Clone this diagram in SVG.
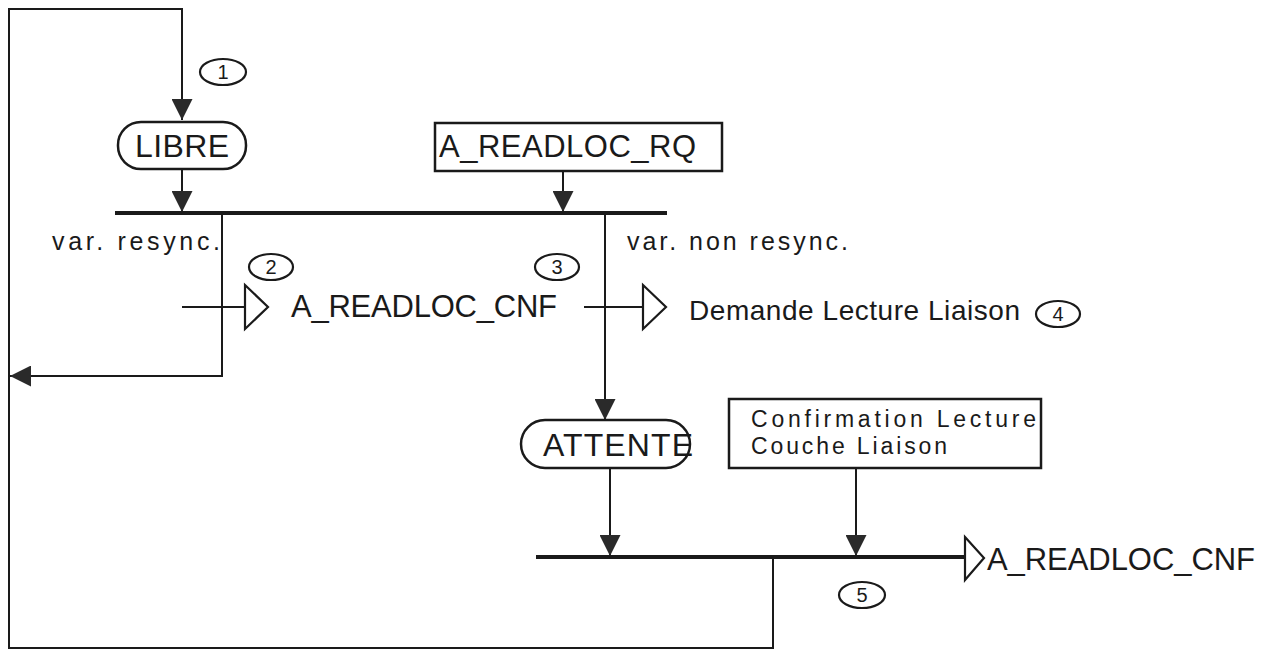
<svg xmlns="http://www.w3.org/2000/svg" width="1274" height="652" viewBox="0 0 1274 652">
<style>
.ln{fill:none;stroke:#1a1a1a;stroke-width:2}
.bar{fill:none;stroke:#1a1a1a;stroke-width:4}
.box{fill:#fff;stroke:#1a1a1a;stroke-width:2.5}
.sig{fill:#fff;stroke:#1a1a1a;stroke-width:2.2}
.t{font-family:"Liberation Sans",Arial,sans-serif;fill:#1a1a1a}
.num{font-family:"Liberation Sans",Arial,sans-serif;fill:#1a1a1a;font-size:20px;text-anchor:middle}
.circ{fill:none;stroke:#1a1a1a;stroke-width:2.2}
</style>
<defs>
<marker id="ah" viewBox="0 0 20 20" refX="20" refY="10" markerWidth="21" markerHeight="21" markerUnits="userSpaceOnUse" orient="auto">
<path d="M0,0 L20,10 L0,20 z" fill="#2a2a2a"/>
</marker>
</defs>
<rect width="1274" height="652" fill="#fff"/>
<g id="connectors">
<polyline class="ln" points="773,557 773,648 9,648 9,9 182,9 182,120" marker-end="url(#ah)"/>
<line class="ln" x1="182" y1="169" x2="182" y2="212" marker-end="url(#ah)"/>
<line class="ln" x1="563" y1="171" x2="563" y2="212" marker-end="url(#ah)"/>
<polyline class="ln" points="222,213 222,376 10,376" marker-end="url(#ah)"/>
<line class="ln" x1="605" y1="213" x2="605" y2="420" marker-end="url(#ah)"/>
<line class="ln" x1="610" y1="468" x2="610" y2="556" marker-end="url(#ah)"/>
<line class="ln" x1="856" y1="468" x2="856" y2="556" marker-end="url(#ah)"/>
<line class="ln" x1="182" y1="307" x2="245" y2="307"/>
<line class="ln" x1="584" y1="307" x2="643" y2="307"/>
</g>
<g id="bar1"><line class="bar" x1="115" y1="213" x2="667" y2="213"/></g>
<g id="bar2"><line class="bar" x1="536" y1="557" x2="965" y2="557"/></g>
<g id="libre">
<rect class="box" x="118" y="122" width="128" height="47" rx="23" ry="23"/>
<text class="t" x="182" y="157" font-size="32" text-anchor="middle" textLength="94">LIBRE</text>
</g>
<g id="n1"><ellipse class="circ" cx="223" cy="72" rx="23" ry="13"/><text class="num" x="223" y="79">1</text></g>
<g id="rq">
<rect class="box" x="435" y="123" width="287" height="48"/>
<text class="t" x="439" y="157" font-size="31" textLength="257">A_READLOC_RQ</text>
</g>
<g id="lbl-resync"><text class="t" x="52" y="250" font-size="25" textLength="168">var.  resync.</text></g>
<g id="lbl-nonresync"><text class="t" x="627" y="250" font-size="25" textLength="221">var.  non  resync.</text></g>
<g id="n2"><ellipse class="circ" cx="271" cy="267" rx="22" ry="13"/><text class="num" x="271" y="274">2</text></g>
<g id="n3"><ellipse class="circ" cx="557" cy="267" rx="22" ry="13"/><text class="num" x="557" y="274">3</text></g>
<g id="out1">
<polygon class="sig" points="245,285 268,307 245,329"/>
<text class="t" x="291" y="317" font-size="31" textLength="266">A_READLOC_CNF</text>
</g>
<g id="out2">
<polygon class="sig" points="643,285 666,307 643,329"/>
<text class="t" x="689" y="320" font-size="28" textLength="331">Demande Lecture Liaison</text>
</g>
<g id="n4"><ellipse class="circ" cx="1058" cy="314" rx="22" ry="13"/><text class="num" x="1058" y="321">4</text></g>
<g id="attente">
<rect class="box" x="521" y="420" width="169" height="48" rx="24" ry="24"/>
<text class="t" x="543" y="456" font-size="32" textLength="150">ATTENTE</text>
</g>
<g id="confirm">
<rect class="box" x="729" y="399" width="312" height="69"/>
<text class="t" x="751" y="427" font-size="23" textLength="285">Confirmation  Lecture</text>
<text class="t" x="751" y="454" font-size="23" textLength="196">Couche Liaison</text>
</g>
<g id="out3">
<polygon class="sig" points="965,537 984,558 965,580"/>
<text class="t" x="987" y="570" font-size="31" textLength="268">A_READLOC_CNF</text>
</g>
<g id="n5"><ellipse class="circ" cx="862" cy="595" rx="23" ry="13"/><text class="num" x="862" y="602">5</text></g>
</svg>
